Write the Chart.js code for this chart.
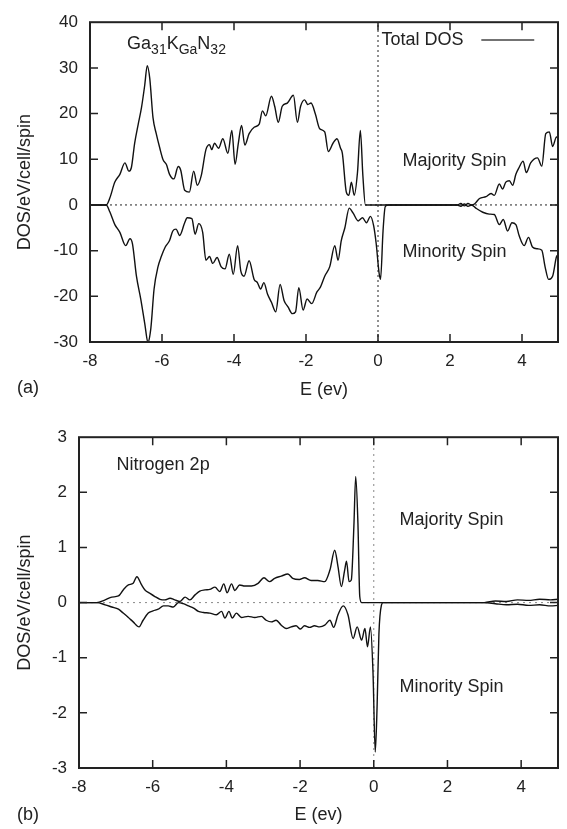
<!DOCTYPE html>
<html>
<head>
<meta charset="utf-8">
<script src="https://cdn.jsdelivr.net/npm/chart.js@4.4.1/dist/chart.umd.min.js"></script>
<style>
  html, body { margin: 0; padding: 0; background: #fff; }
  #wrap { position: relative; width: 567px; height: 829px; }
  .panel { position: absolute; left: 0; width: 567px; }
</style>
</head>
<body>
<div id="wrap">
  <div class="panel" style="top:0;height:415px"><canvas id="dosA"></canvas></div>
  <div class="panel" style="top:415px;height:414px"><canvas id="dosB"></canvas></div>
</div>
<script>
// energy axis ticks, shared by both panels
const xTicks = [-8, -6, -4, -2, 0, 2, 4];
const aTicksY = [-30, -20, -10, 0, 10, 20, 30, 40];
const bTicksY = [-3, -2, -1, 0, 1, 2, 3];

// (a) total DOS, [E, DOS]
const aMajority = [
  [-8.0, 0], [-7.55, 0], [-7.45, 1.5], [-7.31, 5.0], [-7.17, 6.7], [-7.03, 9.2], [-6.92, 7.4],
  [-6.85, 8.2], [-6.76, 13.5], [-6.66, 17.7], [-6.57, 21.3], [-6.48, 26.2], [-6.41, 30.5],
  [-6.34, 27.7], [-6.25, 19.1], [-6.16, 15.6], [-6.06, 12.4], [-5.97, 9.9], [-5.88, 8.9],
  [-5.79, 6.7], [-5.67, 5.7], [-5.55, 8.4], [-5.48, 7.6], [-5.37, 3.2], [-5.24, 2.8],
  [-5.12, 7.4], [-5.02, 4.3], [-4.91, 6.4], [-4.78, 12.1], [-4.68, 13.2], [-4.62, 12.1],
  [-4.54, 13.5], [-4.43, 12.4], [-4.31, 14.5], [-4.17, 11.3], [-4.06, 16.3], [-3.97, 8.9],
  [-3.88, 13.5], [-3.79, 17.4], [-3.70, 13.1], [-3.58, 15.6], [-3.44, 17.0], [-3.30, 17.7],
  [-3.21, 20.6], [-3.12, 19.5], [-2.96, 23.8], [-2.87, 21.6], [-2.77, 18.1], [-2.66, 21.6],
  [-2.52, 22.3], [-2.35, 24.0], [-2.24, 18.1], [-2.15, 21.6], [-2.04, 23.0], [-1.95, 22.0],
  [-1.86, 22.3], [-1.74, 19.9], [-1.62, 16.7], [-1.48, 16.0], [-1.38, 11.7], [-1.25, 13.5],
  [-1.14, 14.5], [-1.04, 12.4], [-0.99, 11.3], [-0.88, 2.8], [-0.81, 2.1], [-0.74, 5.0],
  [-0.66, 2.1], [-0.57, 7.1], [-0.49, 16.3], [-0.42, 6.4], [-0.35, 0], [2.2, 0], [2.3, 0.3],
  [2.4, -0.2], [2.5, 0.3], [2.6, 0], [2.68, 0.2], [2.82, 1.4], [3.0, 1.8], [3.14, 2.5],
  [3.23, 2.1], [3.37, 4.6], [3.46, 3.5], [3.55, 5.0], [3.65, 5.3], [3.74, 4.3], [3.83, 6.7],
  [3.92, 8.2], [4.03, 9.6], [4.12, 7.1], [4.24, 9.2], [4.43, 10.3], [4.55, 8.5], [4.66, 15.6],
  [4.76, 16.0], [4.85, 12.8], [4.96, 14.9], [5.0, 14.5]
];
const aMinority = [
  [-8.0, 0], [-7.55, 0], [-7.45, -1.5], [-7.31, -4.3], [-7.17, -6.0], [-7.01, -8.9], [-6.89, -7.4],
  [-6.82, -8.5], [-6.71, -15.6], [-6.59, -20.6], [-6.48, -25.9], [-6.39, -30.1], [-6.31, -27.0],
  [-6.22, -18.4], [-6.11, -13.5], [-6.02, -11.3], [-5.91, -9.2], [-5.79, -7.8], [-5.70, -5.7],
  [-5.61, -5.3], [-5.51, -6.7], [-5.37, -3.9], [-5.30, -2.8], [-5.17, -3.0], [-5.08, -6.4],
  [-4.98, -4.1], [-4.87, -6.0], [-4.78, -12.1], [-4.68, -11.3], [-4.59, -12.8], [-4.47, -11.5],
  [-4.36, -13.5], [-4.25, -14.0], [-4.13, -10.8], [-4.02, -15.2], [-3.90, -8.9], [-3.81, -14.5],
  [-3.72, -15.6], [-3.58, -12.2], [-3.44, -16.3], [-3.35, -17.0], [-3.26, -18.4], [-3.17, -17.0],
  [-3.07, -19.5], [-2.96, -21.3], [-2.84, -23.4], [-2.72, -17.4], [-2.61, -20.9], [-2.50, -22.3],
  [-2.38, -23.8], [-2.29, -23.4], [-2.20, -18.1], [-2.08, -23.0], [-1.97, -20.6], [-1.84, -21.6],
  [-1.70, -19.1], [-1.60, -18.0], [-1.48, -15.6], [-1.34, -13.5], [-1.20, -8.9], [-1.11, -12.1],
  [-1.02, -7.8], [-0.92, -5.0], [-0.80, -0.7], [-0.69, -1.8], [-0.55, -3.5], [-0.43, -2.8],
  [-0.32, -3.9], [-0.21, -2.5], [-0.12, -4.6], [-0.05, -8.5], [0.03, -14.9], [0.07, -16.3],
  [0.14, -5.7], [0.20, -0.4], [0.28, 0], [2.2, 0], [2.3, -0.3], [2.4, 0.2], [2.5, -0.3],
  [2.6, 0], [2.72, -0.7], [2.91, -1.6], [3.09, -2.0], [3.23, -2.1], [3.37, -4.3], [3.48, -3.2],
  [3.60, -5.7], [3.72, -3.9], [3.83, -4.3], [3.92, -6.7], [4.06, -8.9], [4.18, -7.1],
  [4.29, -9.2], [4.43, -9.6], [4.55, -9.9], [4.64, -13.5], [4.74, -16.3], [4.85, -15.6],
  [4.96, -11.3], [5.0, -11.0]
];

// (b) nitrogen 2p
const bMajority = [
  [-8.0, 0], [-7.52, 0], [-7.29, 0.05], [-7.11, 0.1], [-6.93, 0.12], [-6.80, 0.23], [-6.66, 0.32],
  [-6.53, 0.35], [-6.43, 0.47], [-6.30, 0.32], [-6.21, 0.23], [-6.08, 0.17], [-5.94, 0.11],
  [-5.80, 0.06], [-5.67, 0.05], [-5.53, 0.08], [-5.40, 0.05], [-5.26, 0.02], [-5.12, 0.1],
  [-4.99, 0.05], [-4.85, 0.14], [-4.72, 0.21], [-4.58, 0.23], [-4.45, 0.24], [-4.31, 0.28],
  [-4.18, 0.2], [-4.07, 0.34], [-3.98, 0.18], [-3.86, 0.34], [-3.77, 0.22], [-3.64, 0.32],
  [-3.50, 0.3], [-3.32, 0.3], [-3.14, 0.35], [-2.98, 0.45], [-2.83, 0.38], [-2.69, 0.44],
  [-2.51, 0.48], [-2.33, 0.52], [-2.20, 0.44], [-2.02, 0.42], [-1.88, 0.45], [-1.70, 0.4],
  [-1.52, 0.4], [-1.33, 0.38], [-1.19, 0.59], [-1.06, 0.95], [-0.97, 0.65], [-0.88, 0.29],
  [-0.79, 0.59], [-0.74, 0.75], [-0.67, 0.38], [-0.61, 0.41], [-0.54, 1.38], [-0.49, 2.29],
  [-0.43, 1.44], [-0.38, 0.11], [-0.33, 0], [3.0, 0], [3.3, 0.03], [3.6, 0.02], [3.9, 0.05],
  [4.2, 0.04], [4.5, 0.06], [4.8, 0.05], [5.0, 0.06]
];
const bMinority = [
  [-8.0, 0], [-7.52, 0], [-7.29, -0.04], [-7.11, -0.08], [-6.93, -0.12], [-6.80, -0.19],
  [-6.66, -0.27], [-6.53, -0.35], [-6.37, -0.44], [-6.26, -0.32], [-6.12, -0.19], [-5.99, -0.15],
  [-5.85, -0.12], [-5.71, -0.06], [-5.58, -0.06], [-5.44, -0.08], [-5.30, 0.0], [-5.17, -0.02],
  [-5.03, -0.06], [-4.89, -0.1], [-4.76, -0.16], [-4.62, -0.18], [-4.45, -0.19], [-4.27, -0.22],
  [-4.13, -0.16], [-4.04, -0.28], [-3.93, -0.16], [-3.84, -0.28], [-3.73, -0.19], [-3.59, -0.27],
  [-3.41, -0.25], [-3.23, -0.27], [-3.05, -0.25], [-2.92, -0.32], [-2.78, -0.35], [-2.65, -0.32],
  [-2.51, -0.41], [-2.38, -0.47], [-2.24, -0.44], [-2.11, -0.42], [-1.99, -0.48], [-1.88, -0.42],
  [-1.74, -0.45], [-1.61, -0.42], [-1.47, -0.44], [-1.33, -0.41], [-1.19, -0.32], [-1.09, -0.45],
  [-0.97, -0.22], [-0.83, -0.06], [-0.70, -0.22], [-0.56, -0.65], [-0.45, -0.44], [-0.33, -0.68],
  [-0.24, -0.47], [-0.17, -0.8], [-0.09, -0.44], [-0.02, -1.28], [0.04, -2.71], [0.09, -1.89],
  [0.14, -0.56], [0.21, -0.04], [0.25, 0], [3.0, 0], [3.3, -0.02], [3.6, -0.04], [3.9, -0.03],
  [4.2, -0.05], [4.5, -0.04], [4.8, -0.06], [5.0, -0.05]
];

// Ga31 K(Ga) N32 : [text, isSubscript]
const formulaParts = [['Ga', 0], ['31', 1], ['K', 0], ['Ga', 1], ['N', 0], ['32', 1]];

const FONT = '"Liberation Sans", Arial, Helvetica, sans-serif';
const ink = '#222';

function toPoints(pairs) {
  return pairs.map(([e, d]) => ({ x: e, y: d }));
}

// inward ticks on all four sides, frame, and the text labels
const decor = (spec) => ({
  id: 'decor',
  afterDraw(chart) {
    const { ctx, chartArea: a, scales: { x, y } } = chart;
    ctx.save();
    ctx.strokeStyle = ink;
    ctx.lineWidth = 1.5;
    ctx.beginPath();
    xTicks.forEach(v => {
      if (v <= x.min || v >= x.max) return;
      const px = x.getPixelForValue(v);
      ctx.moveTo(px, a.bottom); ctx.lineTo(px, a.bottom - 8);
      ctx.moveTo(px, a.top); ctx.lineTo(px, a.top + 8);
    });
    spec.yTicks.forEach(v => {
      if (v <= spec.yMin || v >= spec.yMax) return;
      const py = y.getPixelForValue(v);
      ctx.moveTo(a.left, py); ctx.lineTo(a.left + 8, py);
      ctx.moveTo(a.right, py); ctx.lineTo(a.right - 8, py);
    });
    ctx.stroke();
    ctx.lineWidth = 2;
    ctx.strokeRect(a.left, a.top, a.right - a.left, a.bottom - a.top);

    ctx.fillStyle = ink;
    ctx.font = '18px ' + FONT;
    ctx.textBaseline = 'middle';
    ctx.textAlign = 'left';
    spec.notes.forEach(n => {
      ctx.fillText(n.text, x.getPixelForValue(n.e), y.getPixelForValue(n.v));
    });
    ctx.fillText(spec.tag, 17, spec.tagY);

    if (spec.legend) {
      const ly = y.getPixelForValue(36.1);
      ctx.fillText('Total DOS', x.getPixelForValue(0.1), ly);
      ctx.strokeStyle = '#444';
      ctx.lineWidth = 1.5;
      ctx.beginPath();
      ctx.moveTo(x.getPixelForValue(2.87), ly);
      ctx.lineTo(x.getPixelForValue(4.34), ly);
      ctx.stroke();
    }
    if (spec.formula) {
      let fx = x.getPixelForValue(-6.97);
      const fy = y.getPixelForValue(34.2);
      ctx.textBaseline = 'alphabetic';
      formulaParts.forEach(([t, sub]) => {
        ctx.font = (sub ? '14px ' : '18px ') + FONT;
        ctx.fillText(t, fx, fy + (sub ? 5 : 0));
        fx += ctx.measureText(t).width;
      });
    }
    ctx.restore();
  }
});

function makePanel(canvasId, spec) {
  const curve = (pairs) => ({
    data: toPoints(pairs),
    borderColor: '#111',
    borderWidth: 1.4,
    pointRadius: 0,
    fill: false,
    cubicInterpolationMode: 'monotone'
  });
  const guide = (pts) => ({
    data: pts,
    borderColor: spec.guideColor,
    borderWidth: 1,
    borderDash: spec.guideDash,
    pointRadius: 0,
    fill: false,
    tension: 0
  });
  const box = spec.box;
  const tickFont = { family: FONT, size: 17 };
  const titleFont = { family: FONT, size: 18 };

  return new Chart(document.getElementById(canvasId), {
    type: 'line',
    data: {
      datasets: [
        curve(spec.majority),
        curve(spec.minority),
        guide([{ x: -8, y: 0 }, { x: 5, y: 0 }]),
        guide([{ x: 0, y: spec.yMin }, { x: 0, y: spec.yMax }])
      ]
    },
    options: {
      responsive: true,
      maintainAspectRatio: false,
      animation: false,
      layout: { padding: { left: 0, top: box.top, right: 567 - box.right, bottom: 0 } },
      plugins: { legend: { display: false }, tooltip: { enabled: false } },
      scales: {
        x: {
          type: 'linear',
          min: -8,
          max: 5,
          afterBuildTicks: (s) => { s.ticks = xTicks.map(v => ({ value: v })); },
          afterFit: (s) => { s.height = box.height - box.bottom; },
          grid: { display: false, drawTicks: false },
          border: { display: false },
          ticks: { padding: 9, color: ink, font: tickFont, maxRotation: 0, autoSkip: false,
                   callback: (v) => String(v) },
          title: { display: true, text: 'E (ev)', color: ink, font: titleFont,
                   padding: { top: 0, bottom: spec.xTitlePad } }
        },
        y: {
          type: 'linear',
          min: spec.yMin,
          max: spec.yMax,
          afterBuildTicks: (s) => { s.ticks = spec.yTicks.map(v => ({ value: v })); },
          afterFit: (s) => { s.width = box.left; },
          grid: { display: false, drawTicks: false },
          border: { display: false },
          ticks: { padding: 12, color: ink, font: tickFont, callback: (v) => String(v) },
          title: { display: true, text: 'DOS/eV/cell/spin', color: ink, font: titleFont,
                   padding: { top: 14, bottom: 0 } }
        }
      }
    },
    plugins: [decor(spec)]
  });
}

makePanel('dosA', {
  box: { left: 90, right: 558, top: 12, bottom: 342, height: 415 },
  yMin: -30, yMax: 40, yTicks: aTicksY,
  majority: aMajority, minority: aMinority,
  guideColor: '#222', guideDash: [2, 3],
  xTitlePad: 14,
  tag: '(a)', tagY: 388,
  legend: true, formula: true,
  notes: [
    { text: 'Majority Spin', e: 0.68, v: 9.65 },
    { text: 'Minority Spin', e: 0.68, v: -10.2 }
  ]
});

makePanel('dosB', {
  box: { left: 79, right: 558, top: 22, bottom: 353, height: 414 },
  yMin: -3, yMax: 3, yTicks: bTicksY,
  majority: bMajority, minority: bMinority,
  guideColor: '#888', guideDash: [2, 4],
  xTitlePad: 3,
  tag: '(b)', tagY: 400,
  legend: false, formula: false,
  notes: [
    { text: 'Nitrogen 2p', e: -6.98, v: 2.5 },
    { text: 'Majority Spin', e: 0.7, v: 1.5 },
    { text: 'Minority Spin', e: 0.7, v: -1.53 }
  ]
});
</script>
</body>
</html>
